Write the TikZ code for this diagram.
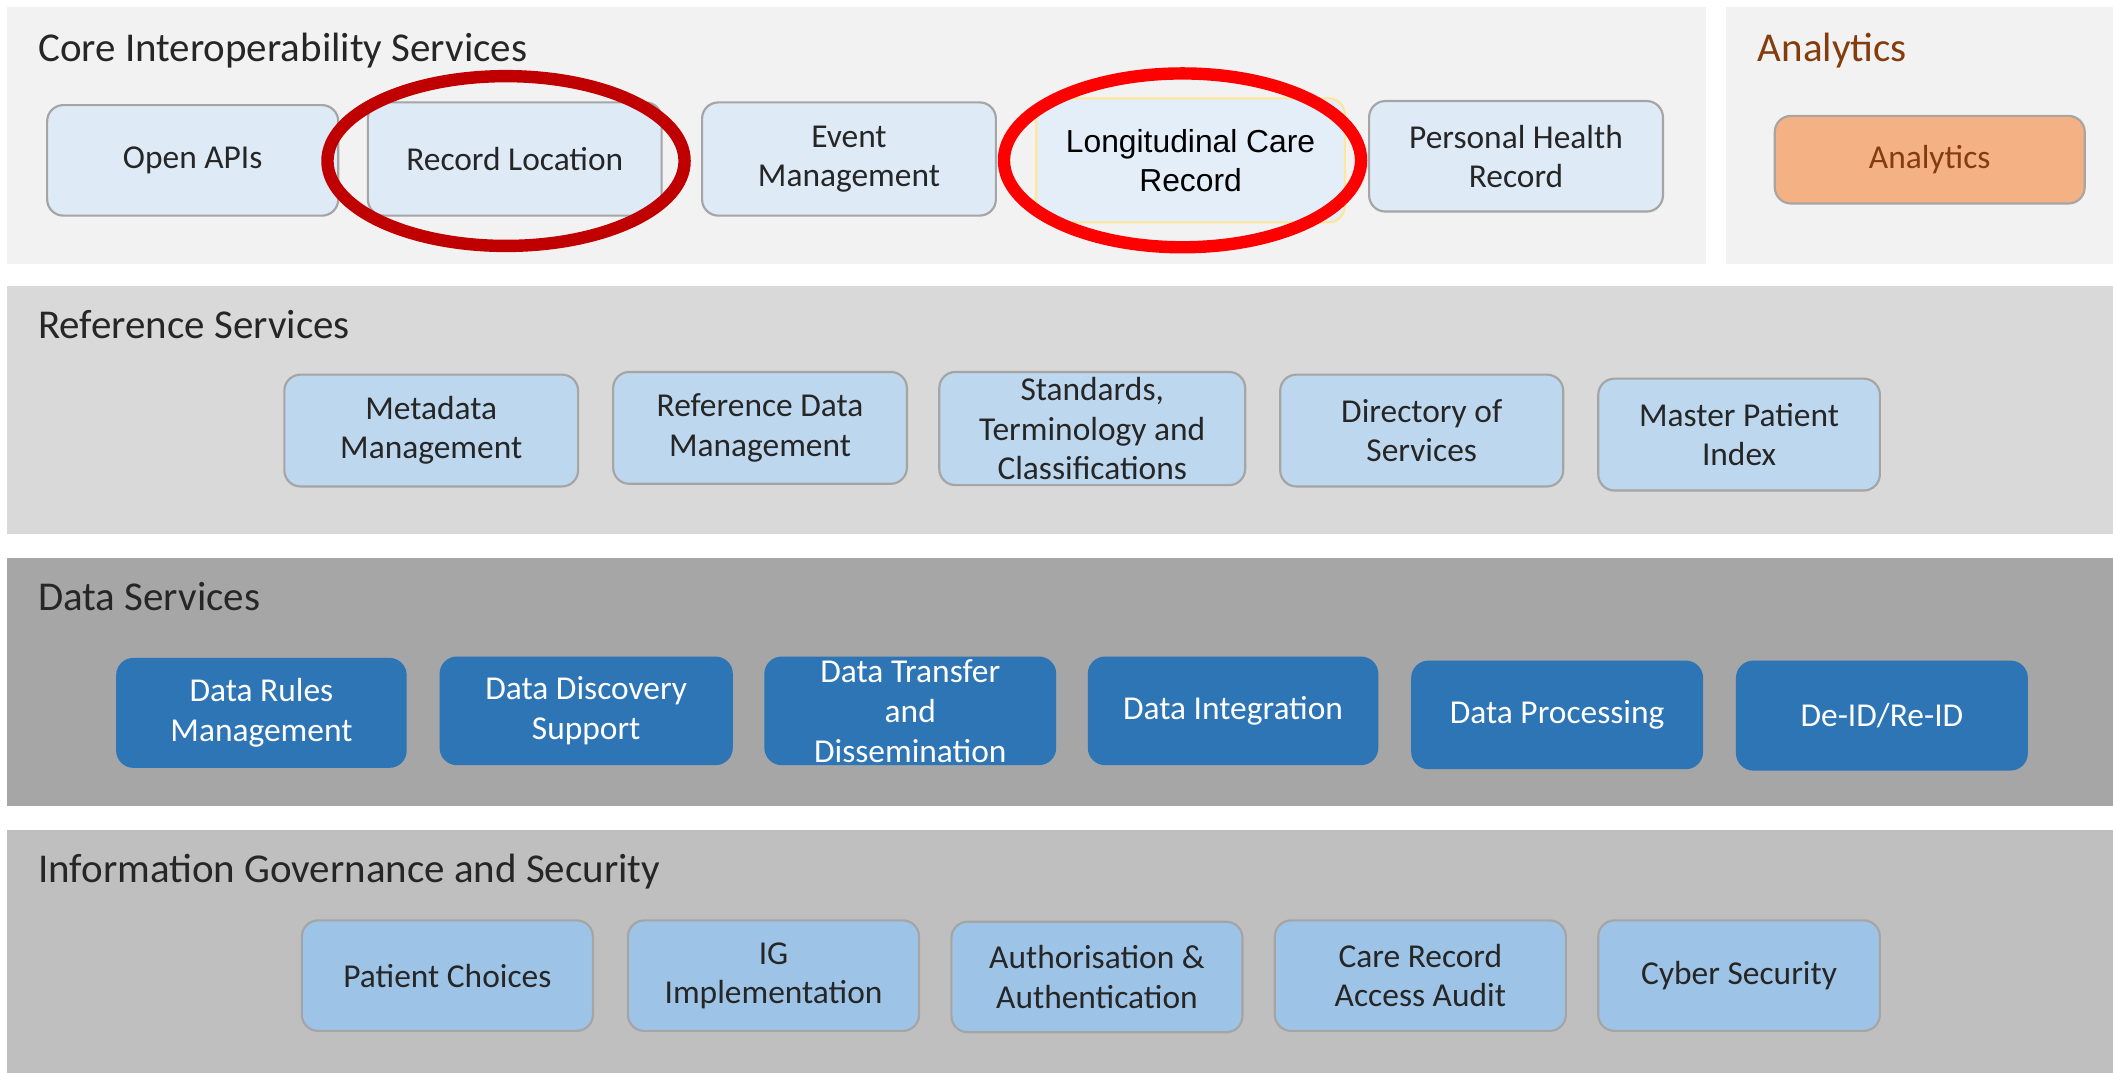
\documentclass[tikz,border=0pt]{standalone}
\usepackage{fontspec}
\setmainfont{Carlito}
\newfontfamily\arialfont{Liberation Sans}
\definecolor{pA}{HTML}{F2F2F2}
\definecolor{pB}{HTML}{D9D9D9}
\definecolor{pC}{HTML}{A6A6A6}
\definecolor{pD}{HTML}{BFBFBF}
\definecolor{coreF}{HTML}{DEEBF7}
\definecolor{lcrF}{HTML}{E4EEF8}
\definecolor{lcrD}{HTML}{FFE699}
\definecolor{refF}{HTML}{BDD7EE}
\definecolor{dataF}{HTML}{2E75B6}
\definecolor{igF}{HTML}{9DC3E6}
\definecolor{anaF}{HTML}{F4B183}
\definecolor{anaT}{HTML}{843C0C}
\definecolor{bordG}{HTML}{A5A5A5}
\definecolor{txtD}{HTML}{262626}
\definecolor{redA}{HTML}{C00000}
\definecolor{redB}{HTML}{FF0000}
\begin{document}
\begin{tikzpicture}[x=0.5pt,y=-0.5pt,
  ttl/.style={anchor=base west, inner sep=0pt, text=txtD, font=\fontsize{15.2}{18}\selectfont},
  sbox/.style={rounded corners=6pt, draw=bordG, line width=0.8pt, inner sep=1pt,
     align=center, text=txtD, font=\fontsize{12.4}{14.6}\selectfont},
  corebox/.style={sbox, fill=coreF},
  refbox/.style={sbox, fill=refF},
  databox/.style={sbox, draw=dataF, fill=dataF, text=white},
  igbox/.style={sbox, fill=igF},
  ring/.style={line width=4.6pt}
]
\useasboundingbox (0,0) rectangle (1568,796);
\fill[white] (0,0) rectangle (1568,796);
% panels
\fill[pA] (5,5) rectangle (1266,196);
\fill[pA] (1281,5) rectangle (1568,196);
\fill[pB] (5,212) rectangle (1568,396);
\fill[pC] (5,414) rectangle (1568,598);
\fill[pD] (5,616) rectangle (1568,796);
% titles
\node[ttl] (tcore) at (28,46) {Core Interoperability Services};
\node[ttl, text=anaT] (tana) at (1304,46) {Analytics};
\node[ttl] (tref) at (28,251) {Reference Services};
\node[ttl] (tdata) at (28,453) {Data Services};
\node[ttl] (tig) at (28,655) {Information Governance and Security};
% core
\node[corebox, minimum width=108pt, minimum height=41pt] (oapi) at (143,119) {Open APIs};
\node[corebox, minimum width=109pt, minimum height=42pt] (rloc) at (382,118) {Record Location};
\node[corebox, minimum width=109pt, minimum height=42pt] (evm) at (630,118) {Event\\Management};
\node[sbox, fill=lcrF, draw=lcrD, minimum width=114.5pt, minimum height=46pt,
      font=\arialfont\fontsize{11.8}{14.4}\selectfont, text=black] (lcr) at (883.5,119) {Longitudinal Care\\Record};
\node[corebox, minimum width=109pt, minimum height=41pt] (phr) at (1125,116) {Personal Health\\Record};
\node[sbox, fill=anaF, text=anaT, minimum width=115pt, minimum height=32.5pt] (ana) at (1432,118.5) {Analytics};
% red rings
\draw[ring, redA] (375.5,119.5) ellipse [x radius=132.5, y radius=63];
\draw[ring, redB] (877.5,119) ellipse [x radius=132.5, y radius=64.5];
% reference
\node[refbox, minimum width=109pt, minimum height=41.5pt] (meta) at (320,319.5) {Metadata\\Management};
\node[refbox, minimum width=109pt, minimum height=41.5pt] (refd) at (564,317.5) {Reference Data\\Management};
\node[refbox, minimum width=113.5pt, minimum height=42pt] (stc) at (810.5,318) {Standards,\\Terminology and\\Classifications};
\node[refbox, minimum width=105pt, minimum height=41.5pt] (dir) at (1055,319.5) {Directory of\\Services};
\node[refbox, minimum width=104.5pt, minimum height=41.5pt] (mpi) at (1290.5,322.5) {Master Patient\\Index};
% data
\node[databox, minimum width=107pt, minimum height=40pt] (drm) at (194,529) {Data Rules\\Management};
\node[databox, minimum width=108pt, minimum height=39.5pt] (dds) at (435,527.5) {Data Discovery\\Support};
\node[databox, minimum width=107.5pt, minimum height=39.5pt] (dtd) at (675.5,527.5) {};
\node[align=center, text=white, inner sep=0pt, font=\fontsize{12.4}{14.8}\selectfont] (dtdt) at (dtd.center) {Data Transfer\\and\\Dissemination};
\node[databox, minimum width=107pt, minimum height=39.5pt] (dint) at (915,527.5) {Data Integration};
\node[databox, minimum width=107.5pt, minimum height=39.5pt] (dproc) at (1155.5,530.5) {Data Processing};
\node[databox, minimum width=107.5pt, minimum height=40pt] (deid) at (1396.5,531) {De-ID/Re-ID};
% IG
\node[igbox, minimum width=108pt, minimum height=41pt] (pc) at (332,724) {Patient Choices};
\node[igbox, minimum width=108pt, minimum height=41pt] (igi) at (574,724) {IG\\Implementation};
\node[igbox, minimum width=108pt, minimum height=41pt] (aa) at (814,725) {Authorisation \&\\Authentication};
\node[igbox, minimum width=108pt, minimum height=41pt] (cra) at (1054,724) {Care Record\\Access Audit};
\node[igbox, minimum width=104.5pt, minimum height=41pt] (cyb) at (1290.5,724) {Cyber Security};
\end{tikzpicture}
\end{document}
